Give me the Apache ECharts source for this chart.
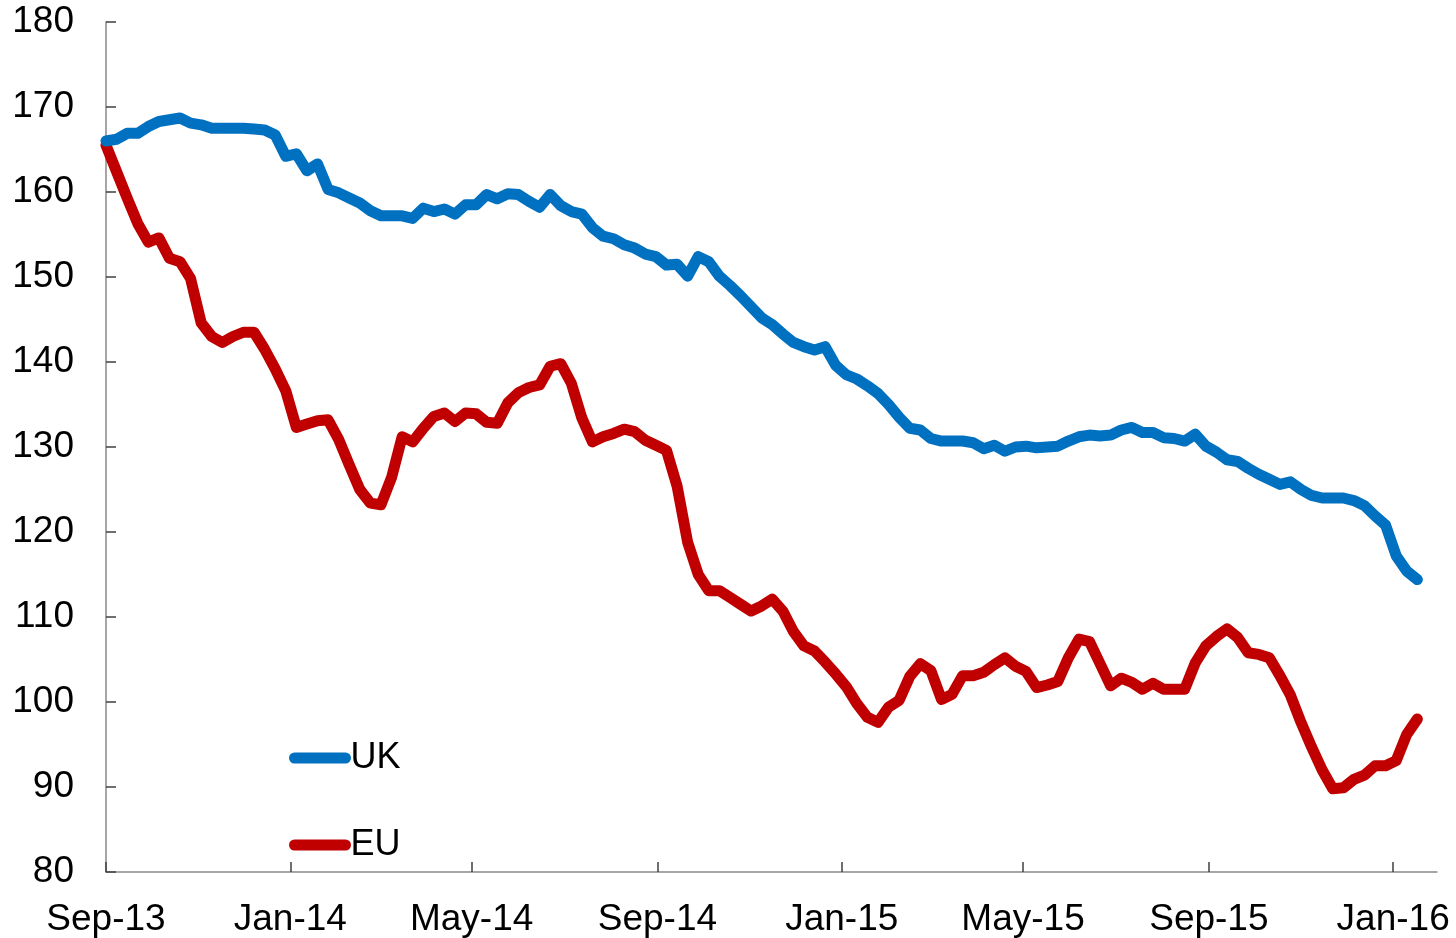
<!DOCTYPE html>
<html>
<head>
<meta charset="utf-8">
<title>UK vs EU</title>
<script src="https://cdn.jsdelivr.net/npm/echarts@6/dist/echarts.min.js"></script>
<style>
    html, body { margin: 0; padding: 0; background: #fff; }
    #chart { width: 1456px; height: 938px; }
</style>
</head>
<body>
<div id="chart"></div>
<script>
const chart = echarts.init(document.getElementById("chart"));

// weekly observations, first one on 1 Sep 2013
const startDate = Date.UTC(2013, 8, 1);
const dayMs = 86400000;
const weekDays = 7;

const ukValues = [
    166.0, 166.2, 166.9, 166.9, 167.7, 168.3, 168.5, 168.7, 168.1, 167.9,
    167.5, 167.5, 167.5, 167.5, 167.4, 167.3, 166.7, 164.2, 164.5, 162.5,
    163.3, 160.3, 159.9, 159.3, 158.7, 157.8, 157.2, 157.2, 157.2, 156.9,
    158.1, 157.7, 158.0, 157.4, 158.5, 158.5, 159.7, 159.2, 159.8, 159.7,
    158.9, 158.2, 159.7, 158.4, 157.7, 157.4, 155.8, 154.8, 154.5, 153.8,
    153.4, 152.7, 152.4, 151.4, 151.5, 150.1, 152.4, 151.8, 150.1, 149.0,
    147.8, 146.5, 145.2, 144.4, 143.3, 142.3, 141.8, 141.4, 141.8, 139.6,
    138.5, 138.0, 137.2, 136.3, 135.0, 133.5, 132.2, 132.0, 131.0, 130.7,
    130.7, 130.7, 130.5, 129.8, 130.2, 129.5, 130.0, 130.1, 129.9, 130.0,
    130.1, 130.7, 131.2, 131.4, 131.3, 131.4, 132.0, 132.3, 131.7, 131.7,
    131.1, 131.0, 130.7, 131.5, 130.1, 129.4, 128.5, 128.3, 127.5, 126.8,
    126.2, 125.6, 125.9, 125.0, 124.3, 124.0, 124.0, 124.0, 123.7, 123.1,
    121.9, 120.8, 117.2, 115.4, 114.4
];

const euValues = [
    165.5, 162.4, 159.3, 156.3, 154.1, 154.6, 152.2, 151.8, 149.8, 144.6,
    143.0, 142.3, 143.0, 143.5, 143.5, 141.5, 139.2, 136.6, 132.3, 132.7,
    133.1, 133.2, 130.9, 127.9, 125.0, 123.4, 123.2, 126.4, 131.2, 130.6,
    132.2, 133.6, 134.0, 133.0, 134.0, 133.9, 132.9, 132.8, 135.2, 136.4,
    137.0, 137.3, 139.5, 139.8, 137.5, 133.4, 130.6, 131.2, 131.6, 132.1,
    131.8, 130.8, 130.2, 129.6, 125.4, 118.8, 115.0, 113.1, 113.1, 112.3,
    111.5, 110.7, 111.3, 112.1, 110.7, 108.3, 106.6, 106.0, 104.7, 103.3,
    101.8, 99.8, 98.2, 97.6, 99.4, 100.2, 103.0, 104.5, 103.7, 100.3,
    100.9, 103.1, 103.1, 103.5, 104.4, 105.2, 104.2, 103.6, 101.7, 102.0,
    102.4, 105.2, 107.4, 107.1, 104.5, 101.9, 102.8, 102.3, 101.5, 102.2,
    101.5, 101.5, 101.5, 104.6, 106.6, 107.7, 108.6, 107.6, 105.8, 105.6,
    105.2, 103.1, 100.8, 97.6, 94.7, 92.0, 89.8, 89.9, 90.9, 91.4,
    92.5, 92.5, 93.1, 96.2, 98.0
];

const tickLabels = ["Sep-13", "Jan-14", "May-14", "Sep-14", "Jan-15", "May-15", "Sep-15", "Jan-16"];
const tickDates = [
    [2013, 8, 1], [2014, 0, 1], [2014, 4, 1], [2014, 8, 1],
    [2015, 0, 1], [2015, 4, 1], [2015, 8, 1], [2016, 0, 1]
];
const lastDay = 881;

const fontFamily = "'Liberation Sans', Arial, sans-serif";

function daysFromStart(ymd) {
    return Math.round((Date.UTC(ymd[0], ymd[1], ymd[2]) - startDate) / dayMs);
}

const tickDays = tickDates.map(daysFromStart);
const labelByDay = {};
tickDays.forEach((d, i) => { labelByDay[d] = tickLabels[i]; });

function toPoints(values) {
    return values.map((v, i) => [i * weekDays, v]);
}

const axisColor = "#898989";

const option = {
    animation: false,
    backgroundColor: "#fff",
    grid: {
        left: 106,
        right: 19,
        top: 22,
        bottom: 65,
        containLabel: false
    },
    legend: {
        data: ["UK", "EU"],
        orient: "vertical",
        left: 284,
        top: 735,
        itemWidth: 51,
        itemHeight: 12,
        itemGap: 51,
        textStyle: {
            fontFamily: fontFamily,
            fontSize: 36,
            color: "#000"
        },
        lineStyle: {
            width: 11,
            cap: "round"
        }
    },
    xAxis: {
        type: "value",
        min: 0,
        max: lastDay,
        axisLine: {
            show: true,
            onZero: false,
            lineStyle: { color: axisColor, width: 1.5 }
        },
        axisTick: {
            show: true,
            inside: true,
            length: 10,
            customValues: tickDays,
            lineStyle: { color: "#404040", width: 1.5 }
        },
        axisLabel: {
            customValues: tickDays,
            margin: 29,
            fontFamily: fontFamily,
            fontSize: 37,
            color: "#000",
            formatter: v => labelByDay[v] || ""
        },
        splitLine: { show: false }
    },
    yAxis: {
        type: "value",
        min: 80,
        max: 180,
        interval: 10,
        axisLine: {
            show: true,
            lineStyle: { color: axisColor, width: 1.5 }
        },
        axisTick: {
            show: true,
            inside: true,
            length: 10,
            lineStyle: { color: "#404040", width: 1.5 }
        },
        axisLabel: {
            margin: 32,
            fontFamily: fontFamily,
            fontSize: 37,
            color: "#000"
        },
        splitLine: { show: false }
    },
    series: [
        {
            name: "UK",
            type: "line",
            symbol: "none",
            showSymbol: false,
            data: toPoints(ukValues),
            itemStyle: { color: "#0070C0" },
            lineStyle: { color: "#0070C0", width: 11, cap: "round", join: "round" },
            z: 3
        },
        {
            name: "EU",
            type: "line",
            symbol: "none",
            showSymbol: false,
            data: toPoints(euValues),
            itemStyle: { color: "#C00000" },
            lineStyle: { color: "#C00000", width: 11, cap: "round", join: "round" },
            z: 2
        }
    ]
};

chart.setOption(option);
window.addEventListener("resize", () => chart.resize());
</script>
</body>
</html>
